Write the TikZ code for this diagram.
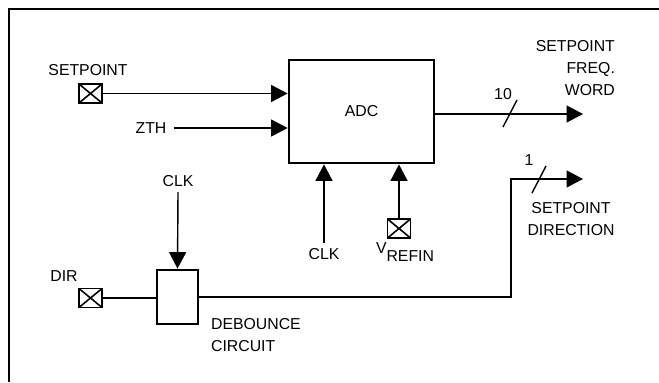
\documentclass[tikz,border=0pt]{standalone}
\usepackage{fontspec}
\setmainfont{Liberation Sans}
\usetikzlibrary{arrows.meta}

\tikzset{
	wire/.style={line width=0.8pt},
	sig/.style={wire, -{Triangle[length=0.33cm, width=0.34cm]}},
	blk/.style={draw, line width=1.6pt, rectangle, inner sep=0pt},
	pad/.style={draw, line width=0.9pt, rectangle, inner sep=0pt, minimum width=0.46cm, minimum height=0.38cm,
		path picture={\draw[line width=0.9pt] (path picture bounding box.north west) -- (path picture bounding box.south east)
			(path picture bounding box.south west) -- (path picture bounding box.north east);}},
	lbl/.style={inner sep=1pt, font=\fontsize{9}{12.5}\selectfont}
}

\begin{document}
\begin{tikzpicture}[x=0.02cm, y=-0.02cm]
		\useasboundingbox (0,0) rectangle (659,382);
		% frame
		\draw[line width=1.2pt] (9,382) -- (9,9) -- (659,9);
		% blocks
		\node[blk, minimum width=2.9cm, minimum height=2.06cm, lbl] (adc) at (361.5,111.5) {ADC};
		\node[blk, minimum width=0.82cm, minimum height=1.08cm] (deb) at (177.5,297) {};
		% pads
		\node[pad] (sp) at (90.5,93.5) {};
		\node[lbl] (spl) at (88,70) {SETPOINT};
		\node[pad] (dir) at (90.5,298) {};
		\node[lbl] (dirl) at (64,276) {DIR};
		\node[pad] (vref) at (399,228.5) {};
		\node[lbl] (vrefl) at (405,252) {V\raisebox{-4.5pt}{REFIN}};
		% inputs to ADC
		\draw[sig] (sp.east) -- (sp.east -| adc.west);
		\node[lbl, inner sep=4pt] (zth) at (151,128) {ZTH};
		\draw[sig] (zth.east) -- (zth.east -| adc.west);
		\node[lbl] (clka) at (324,254) {CLK};
		\draw[sig] ([yshift=2pt]clka.north) -- (clka.north |- adc.south);
		\draw[sig] (vref.north) -- (vref.north |- adc.south);
		% ADC output
		\coordinate (fw) at (583,114);
		\draw[sig] (adc.east |- fw) -- (fw);
		\draw[wire] (503,127) -- (517,100);
		\node[lbl] (n10) at (503,94) {10};
		\node[lbl, anchor=north east, align=right] (fwl) at (617,38) {SETPOINT\\FREQ.\\WORD};
		% debounce
		\node[lbl] (clkd) at (178,181) {CLK};
		\draw[sig] ([yshift=-2pt]clkd.south) -- (deb.north);
		\draw[wire] (dir.east) -- (dir.east -| deb.west);
		\node[lbl, anchor=north west, align=left] (debl) at (209,316) {DEBOUNCE\\CIRCUIT};
		\coordinate (bend) at (511,179);
		\coordinate (dw) at (583,179);
		\draw[sig] (deb.east) -- (deb.east -| bend) -- (bend) -- (dw);
		\draw[wire] (532,193) -- (546,166);
		\node[lbl] (n1) at (529,160) {1};
		\node[lbl, align=center] (dwl) at (571,219) {SETPOINT\\DIRECTION};
	\end{tikzpicture}
\end{document}
